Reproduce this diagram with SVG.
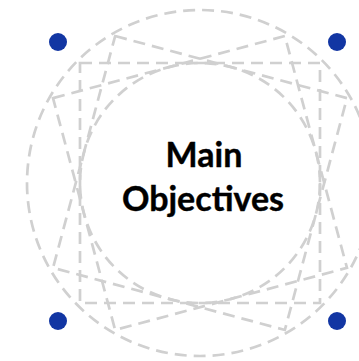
<svg xmlns="http://www.w3.org/2000/svg" width="359" height="361" viewBox="0 0 359 361">
<style>
.d{fill:none;stroke:#d0d0d0;stroke-width:2.7;stroke-dasharray:12 7}
.dot{fill:#1236a3}
.t{font-family:Lato,"Liberation Sans",sans-serif;font-weight:bold;font-size:34px;fill:#000;text-anchor:middle;stroke:#000;stroke-width:0.4}
</style>
<g id="frame">
<circle class="d" cx="200" cy="183" r="173"/>
<rect class="d" x="80" y="63" width="240" height="240"/>
<rect class="d" x="80" y="63" width="240" height="240" transform="rotate(15 200 183)"/>
<rect class="d" x="80" y="63" width="240" height="240" transform="rotate(-15 200 183)"/>
</g>
<g id="main-objectives">
<circle class="d" cx="200" cy="183" r="120"/>
<text class="t" x="204" y="167">Main</text>
<text class="t" x="203" y="211">Objectives</text>
</g>
<g id="dot-tl"><circle class="dot" cx="58" cy="42" r="9"/></g>
<g id="dot-tr"><circle class="dot" cx="337" cy="42" r="9"/></g>
<g id="dot-bl"><circle class="dot" cx="58" cy="321" r="9"/></g>
<g id="dot-br"><circle class="dot" cx="337" cy="321" r="9"/></g>
</svg>
